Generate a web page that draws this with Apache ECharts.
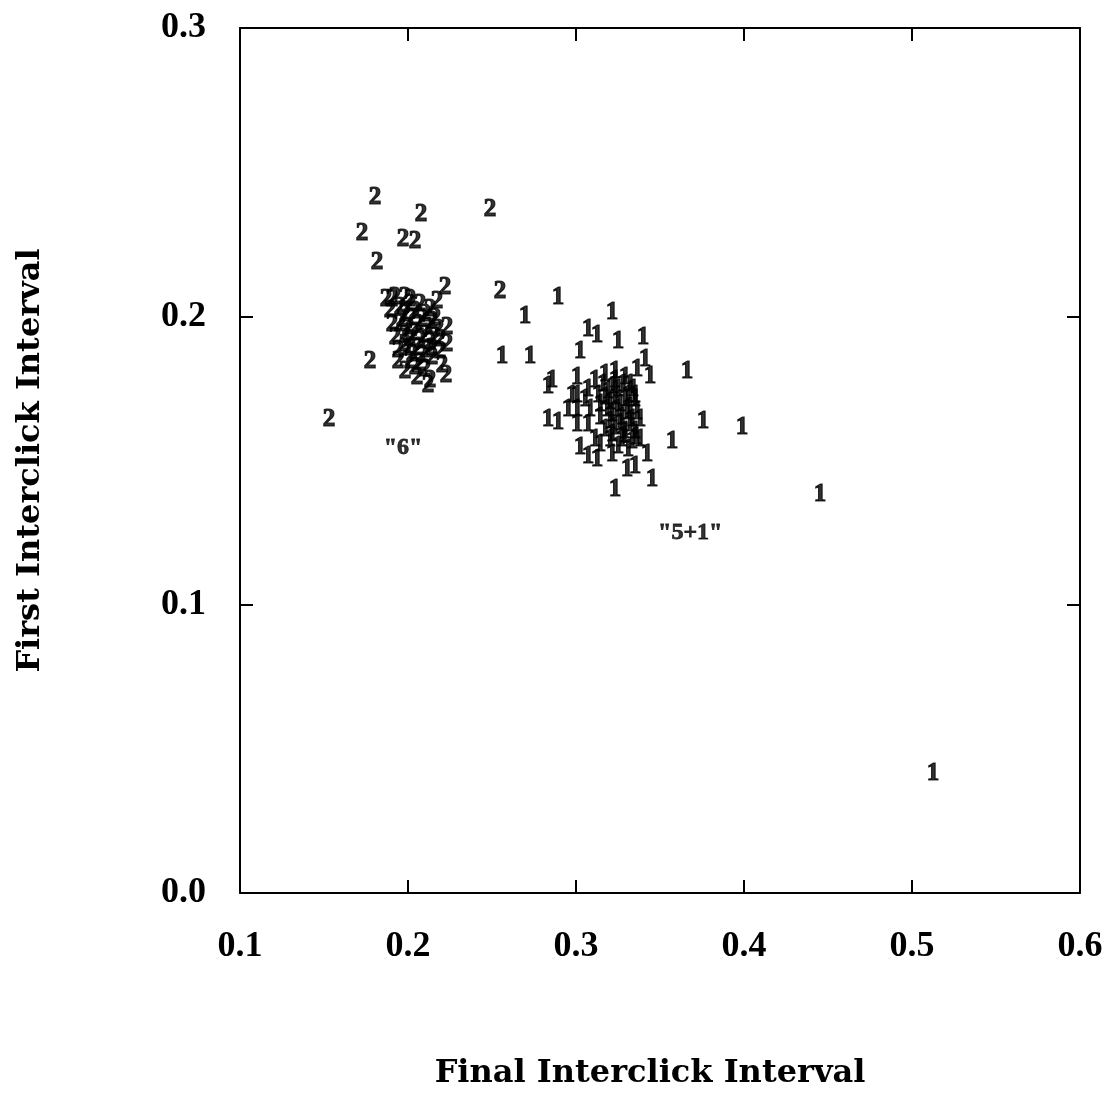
<!DOCTYPE html>
<html><head><meta charset="utf-8">
<script src="https://cdn.jsdelivr.net/npm/echarts@6/dist/echarts.min.js"></script>
<style>html,body{margin:0;padding:0;background:#fff}#c{width:1106px;height:1113px}</style>
</head><body><div id="c"></div>
<script>
// Points marked "2" : [final interclick interval, first interclick interval]
const group2 = [
  [0.1804,0.2411],[0.2077,0.2352],[0.1726,0.2286],[0.1970,0.2265],[0.2042,0.2258],
  [0.1815,0.2185],[0.2488,0.2369],[0.2548,0.2085],[0.1774,0.1842],[0.1530,0.1641],
  [0.1869,0.2057],[0.1923,0.2064],[0.1982,0.2064],[0.2220,0.2099],[0.2173,0.2050],
  [0.1893,0.2019],[0.1952,0.2029],[0.2012,0.2040],[0.2071,0.2040],[0.2131,0.2022],
  [0.1905,0.1970],[0.1964,0.1988],[0.2024,0.1994],[0.2083,0.1988],[0.2143,0.1981],
  [0.2232,0.1960],[0.1923,0.1925],[0.1982,0.1935],[0.2042,0.1942],[0.2101,0.1935],
  [0.2161,0.1925],[0.2232,0.1901],[0.1940,0.1883],[0.2000,0.1890],[0.2060,0.1890],
  [0.2119,0.1883],[0.2190,0.1877],[0.1940,0.1842],[0.2012,0.1842],[0.2071,0.1835],
  [0.2143,0.1856],[0.2202,0.1828],[0.2054,0.1786],[0.2131,0.1779],[0.2226,0.1793],
  [0.2119,0.1759],[0.1982,0.1807],[0.1905,0.2057],
  [0.1982,0.2005],[0.2042,0.2015],[0.2101,0.2005],[0.2161,0.1994],[0.2000,0.1960],
  [0.2060,0.1970],[0.2119,0.1960],[0.2179,0.1953],[0.2012,0.1918],[0.2071,0.1911],
  [0.2131,0.1908],[0.2024,0.1866],[0.2083,0.1863],[0.2143,0.1890],[0.1982,0.1901],
  [0.2042,0.1821],[0.2101,0.1814],[0.1952,0.1970],[0.2190,0.1918],[0.2012,0.2057]
];
// Points marked "1"
const group1 = [
  [0.2893,0.2064],[0.2696,0.1998],[0.3214,0.2012],[0.2560,0.1859],[0.2726,0.1859],
  [0.3071,0.1953],[0.3125,0.1935],[0.3250,0.1911],[0.3399,0.1925],[0.3024,0.1877],
  [0.3411,0.1849],[0.2857,0.1779],[0.2833,0.1755],[0.3440,0.1790],[0.3363,0.1814],
  [0.3661,0.1807],[0.2833,0.1641],[0.2893,0.1630],[0.3006,0.1786],[0.3006,0.1727],
  [0.3006,0.1675],[0.3006,0.1623],[0.3024,0.1544],[0.3071,0.1512],[0.3125,0.1502],
  [0.3214,0.1519],[0.3304,0.1467],[0.3351,0.1478],[0.3423,0.1519],[0.3452,0.1433],
  [0.3232,0.1398],[0.3571,0.1564],[0.3756,0.1634],[0.3988,0.1613],[0.4452,0.1381],
  [0.5125,0.0416],
  [0.3113,0.1779],[0.3173,0.1797],[0.3232,0.1807],[0.3292,0.1786],[0.3321,0.1762],
  [0.3131,0.1727],[0.3190,0.1738],[0.3250,0.1745],[0.3310,0.1727],[0.3143,0.1693],
  [0.3202,0.1700],[0.3262,0.1693],[0.3321,0.1682],[0.3351,0.1710],[0.3143,0.1648],
  [0.3214,0.1658],[0.3274,0.1648],[0.3333,0.1641],[0.3173,0.1606],[0.3232,0.1613],
  [0.3292,0.1599],[0.3351,0.1599],[0.3202,0.1571],[0.3274,0.1571],[0.3333,0.1564],
  [0.3381,0.1641],[0.3083,0.1675],[0.3071,0.1623],[0.3113,0.1571],[0.3143,0.1554],
  [0.3381,0.1571],[0.3232,0.1779],[0.2976,0.1727],[0.2952,0.1675],[0.3054,0.1710],
  [0.3071,0.1745],
  [0.3161,0.1762],[0.3220,0.1755],[0.3280,0.1762],[0.3339,0.1745],[0.3173,0.1717],
  [0.3232,0.1720],[0.3292,0.1710],[0.3351,0.1727],[0.3185,0.1675],[0.3244,0.1675],
  [0.3304,0.1668],[0.3363,0.1665],[0.3202,0.1634],[0.3262,0.1627],[0.3321,0.1623],
  [0.3214,0.1589],[0.3286,0.1585],[0.3357,0.1578],[0.3250,0.1547],[0.3310,0.1537]
];
// Cluster annotations
const noteText = ['"6"', '"5+1"'];
const notePos = [[0.1970,0.1544],[0.3680,0.1249]];

const xTicks = [0.1,0.2,0.3,0.4,0.5,0.6];
const yTicks = [0.0,0.1,0.2,0.3];

const FONT = '"Liberation Serif", "Times New Roman", serif';
const TITLE_FONT = '"DejaVu Serif", serif';
const chart = echarts.init(document.getElementById('c'), null, {renderer:'canvas'});
const markLabel = (t) => ({
  show:true, position:'inside', formatter:t, color:'#000',
  fontFamily:FONT, fontWeight:'bold', fontSize:25,
  textBorderColor:'#000', textBorderWidth:1.2
});
const axisCommon = {
  axisLine:{show:true, onZero:false, lineStyle:{color:'#000', width:2}},
  axisTick:{show:true, inside:true, length:13, lineStyle:{color:'#000', width:2}},
  splitLine:{show:false}
};
const tickLabel = {fontFamily:FONT, fontWeight:'bold', fontSize:36, color:'#000',
  formatter:v=>v.toFixed(1)};
chart.setOption({
  animation:false,
  backgroundColor:'#fff',
  grid:{left:240, top:28, width:840, height:865},
  xAxis:[
    Object.assign({type:'value', min:xTicks[0], max:xTicks[xTicks.length-1], interval:0.1,
      name:'Final Interclick Interval', nameLocation:'middle', nameGap:165,
      nameTextStyle:{fontFamily:TITLE_FONT, fontWeight:'bold', fontSize:32, color:'#000', padding:[0,20,0,0]},
      axisLabel:Object.assign({margin:36}, tickLabel)}, axisCommon),
    Object.assign({type:'value', position:'top', min:xTicks[0], max:xTicks[xTicks.length-1], interval:0.1,
      axisLabel:{show:false}}, axisCommon)
  ],
  yAxis:[
    Object.assign({type:'value', min:yTicks[0], max:yTicks[yTicks.length-1], interval:0.1,
      name:'First Interclick Interval', nameLocation:'middle', nameGap:193,
      nameTextStyle:{fontFamily:TITLE_FONT, fontWeight:'bold', fontSize:32, color:'#000'},
      axisLabel:Object.assign({margin:34}, tickLabel)}, axisCommon),
    Object.assign({type:'value', position:'right', min:yTicks[0], max:yTicks[yTicks.length-1], interval:0.1,
      axisLabel:{show:false}}, axisCommon)
  ],
  series:[
    {type:'scatter', data:group2, symbolSize:1, itemStyle:{color:'rgba(0,0,0,0)'}, label:markLabel('2')},
    {type:'scatter', data:group1, symbolSize:1, itemStyle:{color:'rgba(0,0,0,0)'}, label:markLabel('1')},
    {type:'scatter', data:notePos.map((p,i)=>({value:p, name:noteText[i]})), symbolSize:1,
      itemStyle:{color:'rgba(0,0,0,0)'},
      label:{show:true, position:'inside', formatter:p=>p.name, color:'#000',
        fontFamily:FONT, fontWeight:'bold', fontSize:24, textBorderColor:'#000', textBorderWidth:0.8}}
  ]
});
</script></body></html>
